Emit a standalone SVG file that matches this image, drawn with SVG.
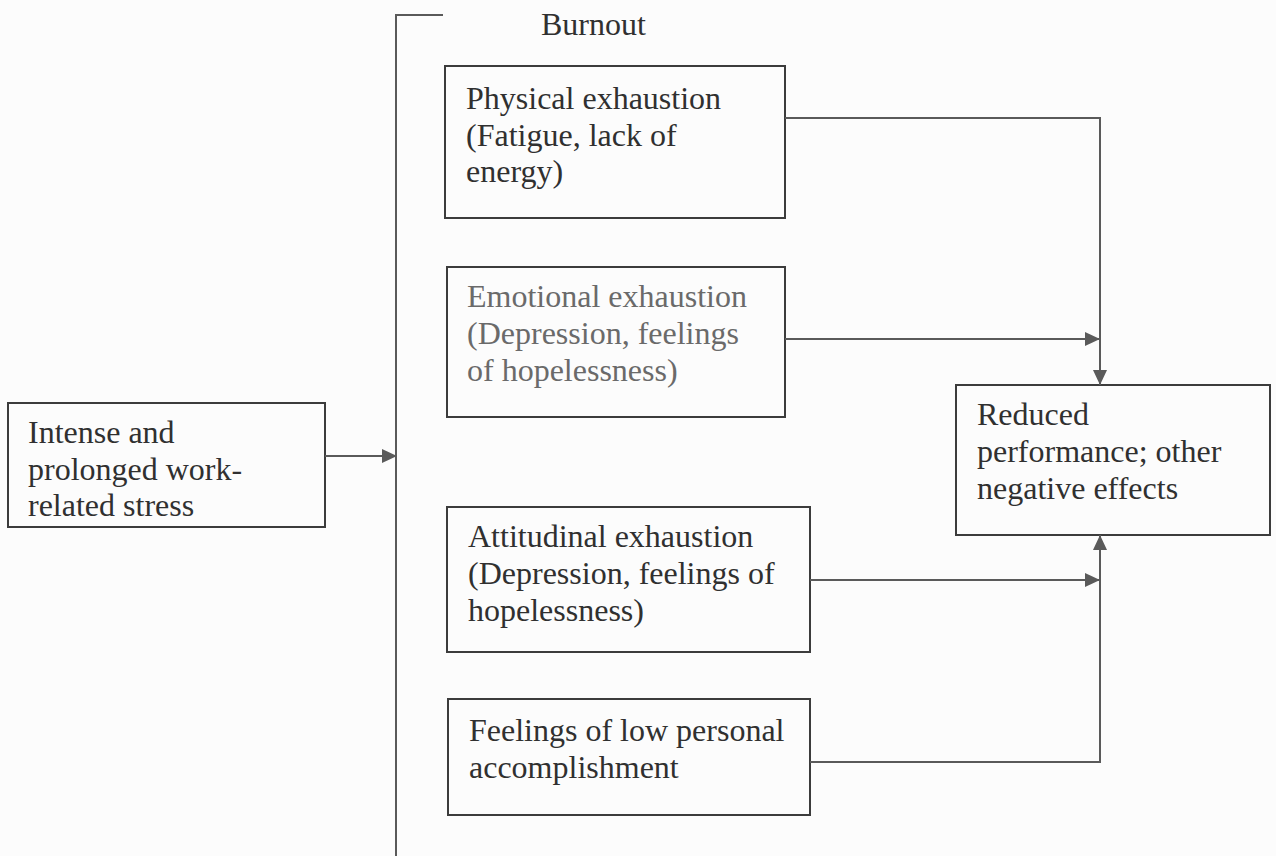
<svg xmlns="http://www.w3.org/2000/svg" width="1276" height="856" viewBox="0 0 1276 856">
  <defs>
    <style>
      .box { fill: none; stroke: #3c3c3c; stroke-width: 2; }
      .t { font-family: 'Liberation Serif', 'DejaVu Serif', serif; font-size: 32px; fill: #303030; }
      .light { fill: #6a6a6a; }
      .conn { fill: none; stroke: #5a5a5a; stroke-width: 2; }
    </style>
    <marker id="arrow" markerUnits="userSpaceOnUse" markerWidth="16" markerHeight="14" refX="15" refY="7" orient="auto">
      <path d="M0,0 L15,7 L0,14 Z" fill="#5a5a5a"/>
    </marker>
  </defs>
  <rect width="1276" height="856" fill="#fcfcfc"/>

  <g id="burnout">
    <path class="conn" d="M443,15 H396 V856" stroke="#444"/>
    <text class="t" x="541" y="35" font-family="Liberation Serif">Burnout</text>
  </g>

  <g id="stress">
    <rect class="box" x="8" y="403" width="317" height="124"/>
    <text class="t" x="28" y="443">Intense and</text>
    <text class="t" x="28" y="480">prolonged work-</text>
    <text class="t" x="28" y="516">related stress</text>
  </g>

  <g id="physical">
    <rect class="box" x="445" y="66" width="340" height="152"/>
    <text class="t" x="466" y="109">Physical exhaustion</text>
    <text class="t" x="466" y="146">(Fatigue, lack of</text>
    <text class="t" x="466" y="182">energy)</text>
  </g>

  <g id="emotional">
    <rect class="box" x="447" y="267" width="338" height="150"/>
    <text class="t light" x="467" y="307">Emotional exhaustion</text>
    <text class="t light" x="467" y="344">(Depression, feelings</text>
    <text class="t light" x="467" y="381">of hopelessness)</text>
  </g>

  <g id="attitudinal">
    <rect class="box" x="447" y="507" width="363" height="145"/>
    <text class="t" x="468" y="547">Attitudinal exhaustion</text>
    <text class="t" x="468" y="584">(Depression, feelings of</text>
    <text class="t" x="468" y="621">hopelessness)</text>
  </g>

  <g id="accomplishment">
    <rect class="box" x="448" y="699" width="362" height="116"/>
    <text class="t" x="469" y="741">Feelings of low personal</text>
    <text class="t" x="469" y="778">accomplishment</text>
  </g>

  <g id="reduced">
    <rect class="box" x="956" y="385" width="314" height="150"/>
    <text class="t" x="977" y="425">Reduced</text>
    <text class="t" x="977" y="462">performance; other</text>
    <text class="t" x="977" y="499">negative effects</text>
  </g>

  <g id="connectors">
    <path class="conn" d="M325,456 H397" marker-end="url(#arrow)"/>
    <path class="conn" d="M785,118 H1100 V385" marker-end="url(#arrow)"/>
    <path class="conn" d="M785,339 H1100" marker-end="url(#arrow)"/>
    <path class="conn" d="M810,580 H1100" marker-end="url(#arrow)"/>
    <path class="conn" d="M810,762 H1100 V535" marker-end="url(#arrow)"/>
  </g>
</svg>
